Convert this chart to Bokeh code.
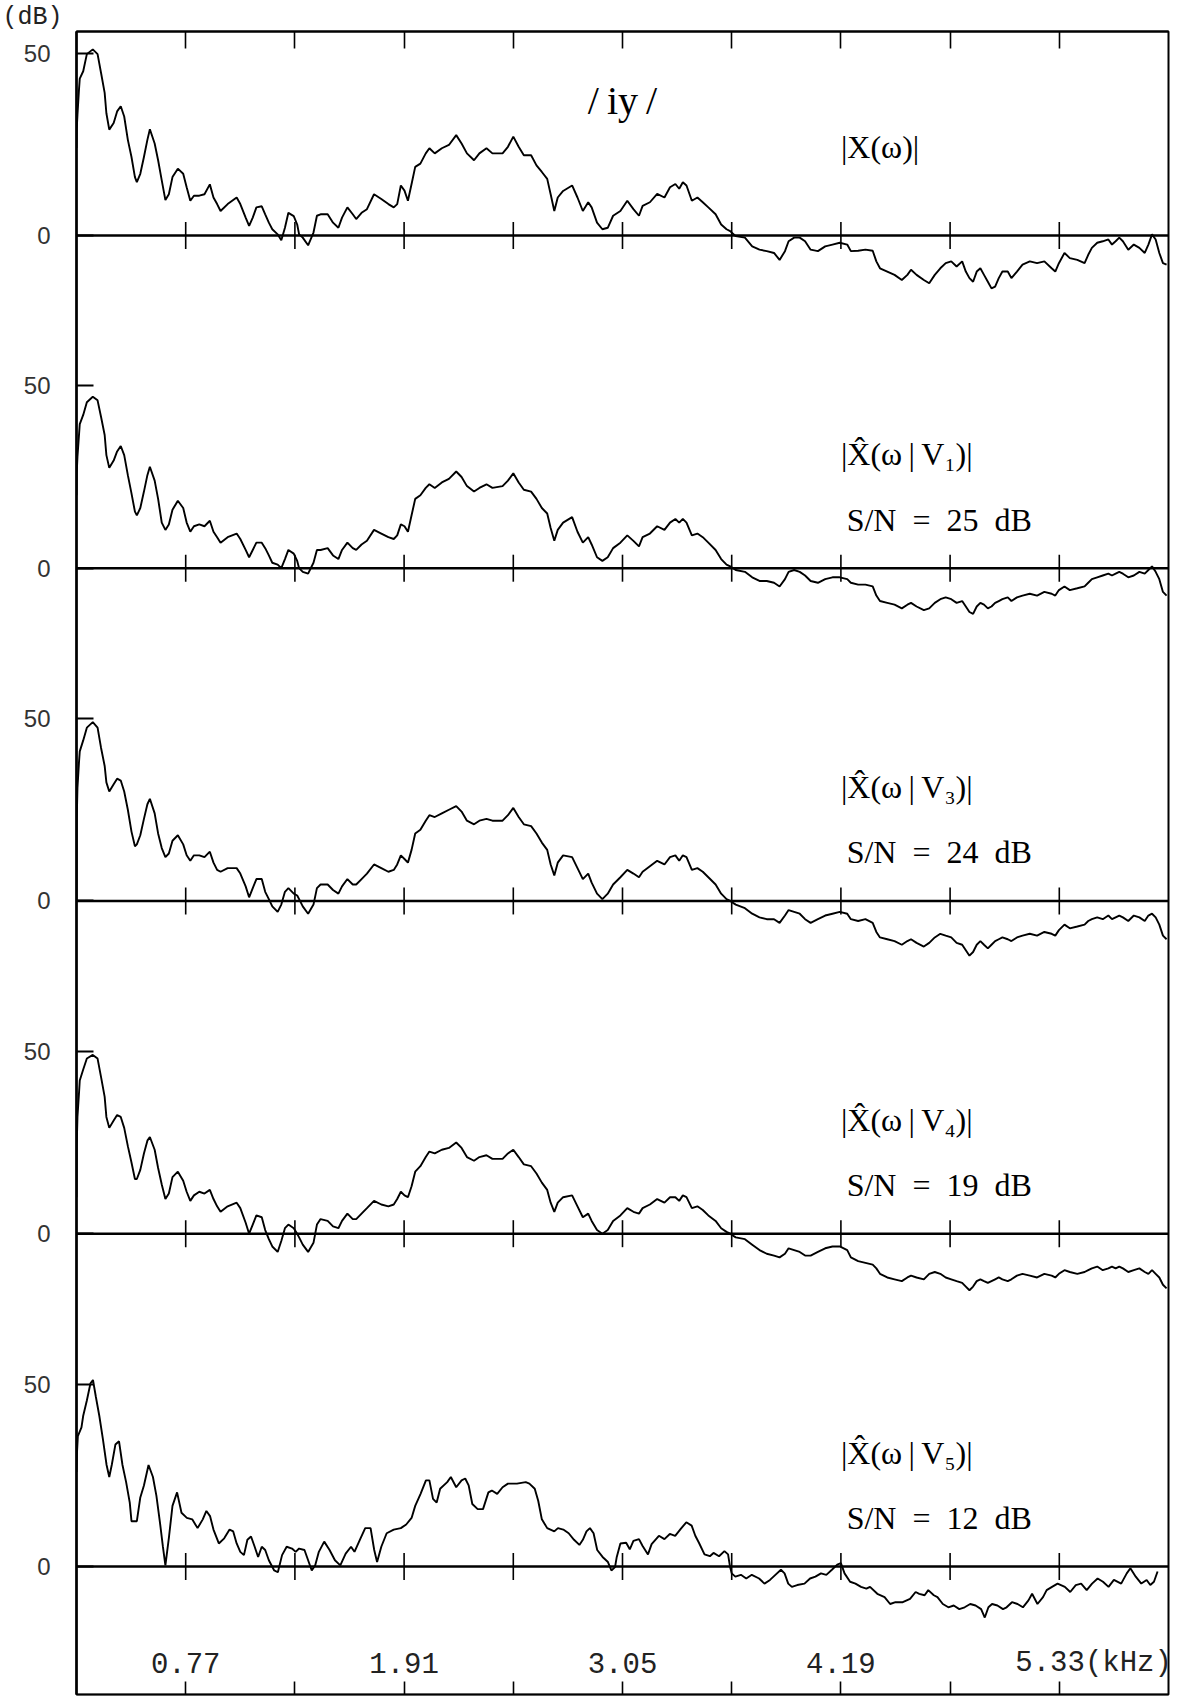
from bokeh.plotting import figure
from bokeh.models import FixedTicker, LinearAxis, Range1d, ColumnDataSource
from bokeh.core.properties import value
from bokeh.embed import file_html
from bokeh.resources import INLINE

# ---------------- data ----------------
freq_ticks = [0.77, 1.34, 1.91, 2.48, 3.05, 3.62, 4.19, 4.76, 5.33]
freq_label_pos = [0.77, 1.91, 3.05, 4.19, 5.33]
freq_labels = ["0.77", "1.91", "3.05", "4.19", "5.33(kHz)"]
db_ticks = [50, 0]

panel_names = ["|X(\u03c9)|",
               "|X\u0302(\u03c9\u2009|\u2009V\u2081)|",
               "|X\u0302(\u03c9\u2009|\u2009V\u2083)|",
               "|X\u0302(\u03c9\u2009|\u2009V\u2084)|",
               "|X\u0302(\u03c9\u2009|\u2009V\u2085)|"]
snr_labels = ["", "S/N\u2002=\u200225\u2002dB", "S/N\u2002=\u200224\u2002dB",
              "S/N\u2002=\u200219\u2002dB", "S/N\u2002=\u200212\u2002dB"]
vowel = "/\u2009iy\u2009/"

# common frequency grid (kHz) for the four upper spectra
f1 = [0.200, 0.201, 0.205, 0.213, 0.217, 0.235, 0.254, 0.285, 0.310, 0.328, 0.347, 0.356, 0.371, 0.394,
      0.412, 0.431, 0.449, 0.468, 0.487, 0.505, 0.515, 0.533, 0.552, 0.570, 0.583, 0.608, 0.626, 0.645,
      0.664, 0.682, 0.701, 0.729, 0.757, 0.775, 0.794, 0.813, 0.841, 0.868, 0.896, 0.915, 0.934, 0.952,
      0.989, 1.036, 1.055, 1.083, 1.101, 1.120, 1.139, 1.167, 1.185, 1.204, 1.222, 1.250, 1.269, 1.288,
      1.306, 1.334, 1.352, 1.362, 1.381, 1.409, 1.437, 1.455, 1.474, 1.511, 1.539, 1.567, 1.586, 1.614,
      1.642, 1.660, 1.688, 1.716, 1.753, 1.791, 1.828, 1.856, 1.874, 1.893, 1.912, 1.930, 1.949, 1.968,
      1.995, 2.023, 2.042, 2.070, 2.107, 2.144, 2.182, 2.210, 2.238, 2.275, 2.303, 2.340, 2.371, 2.424,
      2.452, 2.480, 2.508, 2.535, 2.573, 2.601, 2.629, 2.657, 2.675, 2.694, 2.712, 2.740, 2.787, 2.815,
      2.843, 2.871, 2.889, 2.917, 2.945, 2.973, 3.001, 3.039, 3.075, 3.107, 3.136, 3.155, 3.193, 3.231,
      3.269, 3.298, 3.326, 3.346, 3.365, 3.384, 3.412, 3.441, 3.469, 3.498, 3.536, 3.565, 3.593, 3.612,
      3.641, 3.689, 3.727, 3.765, 3.803, 3.841, 3.870, 3.898, 3.917, 3.946, 3.975, 4.003, 4.032, 4.070,
      4.108, 4.146, 4.184, 4.223, 4.242, 4.280, 4.318, 4.356, 4.375, 4.394, 4.432, 4.470, 4.508, 4.537,
      4.556, 4.585, 4.623, 4.651, 4.680, 4.709, 4.737, 4.766, 4.794, 4.823, 4.842, 4.861, 4.880, 4.899,
      4.918, 4.937, 4.957, 4.976, 4.995, 5.014, 5.033, 5.061, 5.080, 5.109, 5.138, 5.176, 5.214, 5.252,
      5.290, 5.309, 5.328, 5.357, 5.385, 5.424, 5.462, 5.481, 5.500, 5.528, 5.557, 5.586, 5.605, 5.624,
      5.643, 5.662, 5.690, 5.719, 5.748, 5.776, 5.795, 5.814, 5.833, 5.852, 5.871, 5.890]

# |X(w)|  (dB)
d1 = [24.0, 29.0, 33.0, 40.0, 43.0, 45.0, 49.7, 51.0, 49.7, 44.6, 39.1, 33.5, 29.0, 30.8,
      34.0, 35.4, 32.6, 26.2, 21.5, 16.0, 14.6, 16.9, 21.5, 26.2, 29.1, 25.2, 20.6, 15.1,
      9.7, 11.3, 16.0, 18.3, 16.9, 13.2, 9.5, 10.9, 10.9, 11.3, 14.0, 10.4, 8.6, 6.7,
      8.6, 10.4, 8.6, 4.9, 2.6, 4.9, 7.7, 8.0, 5.8, 3.5, 1.7, 0.3, -1.3, 2.1,
      6.2, 5.3, 3.0, 0.3, -0.6, -2.7, 0.8, 5.4, 5.8, 5.8, 3.5, 2.1, 4.9, 7.7,
      5.8, 4.5, 6.2, 7.2, 11.3, 10.0, 8.6, 7.7, 8.6, 13.7, 12.3, 9.5, 14.1, 18.8,
      19.7, 22.5, 23.9, 22.5, 23.9, 24.8, 27.5, 25.2, 22.5, 20.6, 22.5, 23.9, 22.5, 22.5,
      24.3, 27.1, 24.3, 22.0, 22.0, 19.2, 17.4, 15.5, 11.3, 6.7, 10.4, 12.2, 13.7, 10.4,
      6.7, 9.1, 7.7, 3.5, 1.7, 2.1, 5.4, 6.7, 9.5, 7.2, 5.4, 8.1, 9.1, 11.4,
      10.4, 13.2, 14.1, 12.8, 14.6, 13.7, 9.5, 10.4, 9.1, 7.7, 5.8, 3.0, 1.7, 1.2,
      -0.2, -0.6, -3.0, -3.9, -4.3, -4.8, -6.7, -4.3, -1.6, -0.6, -0.6, -1.6, -3.9, -4.3,
      -3.0, -2.5, -2.0, -2.5, -4.3, -4.2, -3.9, -4.2, -7.1, -9.0, -9.9, -10.8, -12.2, -10.8,
      -9.4, -10.8, -12.2, -13.1, -10.8, -9.0, -7.6, -7.1, -8.5, -7.1, -9.9, -11.7, -12.7, -9.9,
      -9.0, -10.8, -12.7, -14.5, -14.0, -11.7, -9.9, -9.9, -11.7, -9.9, -8.0, -7.1, -7.6, -7.1,
      -9.0, -9.9, -7.6, -4.8, -6.2, -6.7, -7.6, -5.3, -3.4, -2.0, -1.6, -1.1, -2.5, -1.6,
      -0.6, -1.6, -3.9, -2.5, -3.4, -4.8, -2.5, 0.3, -1.1, -4.8, -7.6, -8.0]

# |X^(w|V1)|, S/N 25 dB
d2 = [20.0, 26.0, 30.5, 36.5, 39.5, 42.0, 45.5, 47.0, 46.0, 41.5, 36.5, 31.0, 27.5, 29.5,
      32.0, 33.5, 31.0, 25.5, 20.5, 15.5, 14.5, 16.5, 21.0, 25.5, 27.8, 24.0, 19.0, 12.5,
      10.5, 12.0, 16.0, 18.5, 16.5, 12.5, 10.0, 11.5, 12.0, 11.5, 13.0, 10.0, 8.5, 7.0,
      8.5, 9.5, 8.0, 5.0, 3.0, 5.0, 7.0, 7.0, 5.5, 3.5, 1.5, 1.0, 0.0, 2.5,
      5.0, 4.0, 2.0, 0.0, -1.0, -1.5, 1.5, 5.0, 5.0, 5.5, 3.5, 2.5, 5.0, 7.0,
      5.5, 5.0, 6.5, 7.5, 10.5, 9.5, 8.5, 8.0, 9.0, 12.0, 11.5, 10.0, 14.5, 19.0,
      20.0, 22.0, 23.0, 22.0, 23.5, 24.5, 26.5, 25.0, 22.5, 21.0, 22.0, 23.0, 22.0, 22.5,
      24.0, 26.0, 23.5, 21.5, 21.0, 19.0, 16.5, 15.0, 11.0, 7.5, 10.5, 12.5, 14.0, 10.0,
      7.0, 8.5, 6.5, 3.0, 2.0, 3.0, 5.5, 7.0, 9.0, 7.5, 6.0, 8.5, 9.5, 11.5,
      10.5, 12.5, 13.5, 12.5, 13.5, 12.5, 9.0, 9.5, 8.5, 7.0, 5.0, 2.5, 1.0, 0.5,
      -0.5, -1.0, -2.5, -3.5, -3.5, -4.0, -5.0, -3.0, -1.0, -0.5, -1.0, -2.0, -3.5, -4.0,
      -3.0, -2.5, -2.5, -3.0, -4.0, -4.5, -4.5, -5.0, -7.5, -9.0, -9.5, -10.0, -11.0, -10.0,
      -9.5, -10.5, -11.5, -11.0, -9.5, -8.5, -8.0, -8.5, -9.5, -9.0, -10.5, -12.0, -12.5, -10.5,
      -9.5, -10.0, -11.0, -10.5, -9.5, -9.0, -8.5, -8.0, -9.0, -8.0, -7.5, -7.0, -7.5, -6.5,
      -7.0, -7.5, -6.0, -5.0, -6.0, -5.5, -5.0, -4.0, -3.0, -2.5, -2.0, -1.5, -2.0, -1.5,
      -1.0, -1.5, -2.5, -2.0, -1.0, -1.5, -0.5, 0.5, -1.0, -3.0, -6.5, -7.5]

# |X^(w|V3)|, S/N 24 dB
d3 = [0.0, 22.0, 31.0, 38.0, 41.0, 44.0, 47.5, 49.0, 47.5, 42.0, 37.0, 32.5, 30.0, 32.0,
      33.5, 33.0, 30.0, 25.0, 19.0, 15.0, 15.5, 18.0, 22.5, 26.5, 28.0, 24.0, 18.5, 14.5,
      12.0, 13.0, 16.5, 18.0, 15.5, 12.5, 11.0, 12.5, 12.5, 12.0, 13.5, 10.5, 8.5, 8.0,
      9.0, 9.0, 7.5, 4.0, 1.0, 3.5, 6.0, 6.0, 2.5, 0.5, -1.5, -3.0, -1.0, 2.5,
      3.5, 2.0, 1.5, 0.5, -1.5, -3.5, -1.0, 3.5, 4.5, 4.5, 3.0, 2.0, 4.0, 6.0,
      4.5, 4.5, 6.0, 7.5, 10.0, 9.0, 8.0, 8.5, 10.0, 12.5, 11.5, 10.5, 14.0, 18.5,
      19.5, 22.0, 23.5, 23.0, 24.0, 25.0, 26.0, 24.5, 22.0, 21.0, 22.0, 22.5, 22.0, 22.0,
      23.5, 25.5, 23.0, 21.0, 20.5, 18.5, 16.0, 14.0, 10.0, 7.0, 10.5, 12.5, 12.0, 9.0,
      6.0, 7.5, 5.0, 2.0, 0.5, 2.0, 4.5, 6.5, 8.5, 7.5, 6.5, 8.0, 9.5, 11.0,
      10.0, 12.0, 12.5, 11.0, 12.5, 12.0, 8.5, 9.0, 8.0, 6.5, 4.5, 2.0, 0.5, 0.0,
      -1.0, -2.0, -3.5, -4.5, -5.0, -5.0, -6.0, -4.0, -2.5, -3.0, -3.5, -5.0, -6.0, -5.0,
      -4.0, -3.5, -3.0, -3.5, -5.0, -5.5, -5.0, -6.0, -8.5, -10.0, -10.5, -11.0, -12.0, -11.0,
      -10.5, -11.5, -12.5, -11.5, -10.0, -9.0, -9.5, -10.0, -11.5, -12.0, -13.5, -15.0, -14.0, -12.0,
      -11.0, -12.0, -13.0, -12.0, -11.0, -10.5, -10.0, -10.5, -11.0, -10.0, -9.5, -9.0, -9.5, -8.5,
      -9.0, -9.5, -8.0, -6.5, -7.5, -7.0, -6.5, -5.5, -5.0, -4.5, -5.0, -4.0, -5.0, -4.5,
      -4.0, -4.5, -5.5, -4.0, -4.5, -5.5, -4.0, -3.5, -4.5, -6.5, -9.5, -10.5]

# |X^(w|V4)|, S/N 19 dB
d4 = [10.0, 24.0, 32.0, 38.5, 42.0, 45.0, 48.0, 49.0, 48.0, 43.0, 37.5, 32.0, 29.0, 31.0,
      32.5, 32.0, 29.0, 24.0, 19.5, 15.0, 15.0, 17.5, 22.0, 25.5, 26.5, 23.0, 18.0, 13.5,
      9.5, 11.0, 15.5, 17.0, 14.5, 11.5, 9.0, 10.5, 11.5, 11.0, 12.0, 9.5, 7.5, 6.0,
      7.5, 8.5, 7.0, 3.0, 0.0, 2.5, 5.0, 4.5, 1.0, -1.5, -3.5, -5.0, -2.0, 1.5,
      2.5, 1.5, 0.0, -1.0, -3.0, -5.0, -2.5, 2.5, 4.0, 3.5, 2.0, 1.5, 3.5, 5.5,
      4.0, 4.0, 5.5, 7.0, 9.0, 8.0, 7.5, 8.0, 9.5, 11.5, 10.5, 10.0, 13.0, 17.0,
      18.5, 21.0, 22.5, 22.0, 23.0, 23.5, 25.0, 23.5, 21.0, 20.0, 21.0, 21.5, 20.5, 20.5,
      22.0, 23.0, 21.0, 19.0, 18.5, 16.5, 14.0, 12.0, 8.5, 6.0, 8.5, 10.0, 10.5, 7.5,
      4.5, 5.5, 3.5, 1.0, 0.0, 1.0, 3.5, 5.0, 7.0, 6.0, 5.5, 7.0, 8.0, 9.5,
      8.5, 10.0, 10.0, 9.0, 10.5, 10.0, 7.0, 7.5, 6.5, 5.0, 3.5, 1.5, 0.5, 0.0,
      -1.0, -1.5, -3.0, -4.5, -5.5, -6.0, -6.5, -5.5, -4.0, -4.5, -5.0, -6.0, -6.0, -5.0,
      -4.0, -3.5, -3.5, -4.5, -6.5, -7.5, -8.0, -8.5, -9.5, -11.0, -12.0, -12.5, -13.0, -12.0,
      -11.5, -12.0, -12.5, -11.0, -10.5, -11.0, -12.0, -12.5, -13.0, -13.5, -14.5, -15.5, -14.5, -13.0,
      -12.5, -13.0, -13.5, -13.0, -12.5, -12.0, -12.5, -13.0, -12.5, -11.5, -11.0, -11.5, -12.0, -11.0,
      -11.5, -12.0, -11.0, -10.0, -10.5, -11.0, -10.5, -10.0, -9.5, -9.0, -10.0, -9.5, -9.0, -9.5,
      -9.0, -9.5, -10.5, -10.0, -9.5, -10.5, -11.0, -10.0, -11.0, -12.0, -14.0, -15.0]

# |X^(w|V5)|, S/N 12 dB
f5 = [0.200, 0.202, 0.207, 0.226, 0.235, 0.254, 0.273, 0.286, 0.301, 0.319, 0.338, 0.357, 0.371, 0.384,
      0.403, 0.422, 0.440, 0.459, 0.478, 0.487, 0.515, 0.533, 0.552, 0.576, 0.599, 0.617, 0.636, 0.651,
      0.664, 0.683, 0.701, 0.725, 0.748, 0.776, 0.804, 0.832, 0.859, 0.878, 0.897, 0.915, 0.943, 0.971,
      0.999, 1.018, 1.036, 1.055, 1.074, 1.092, 1.111, 1.130, 1.148, 1.167, 1.185, 1.204, 1.232, 1.251,
      1.273, 1.297, 1.325, 1.344, 1.362, 1.390, 1.409, 1.428, 1.446, 1.465, 1.493, 1.521, 1.549, 1.577,
      1.605, 1.633, 1.651, 1.679, 1.707, 1.735, 1.754, 1.769, 1.791, 1.819, 1.856, 1.893, 1.921, 1.949,
      1.968, 1.996, 2.024, 2.042, 2.061, 2.080, 2.098, 2.135, 2.154, 2.182, 2.210, 2.229, 2.247, 2.266,
      2.294, 2.322, 2.350, 2.368, 2.396, 2.424, 2.452, 2.499, 2.545, 2.564, 2.592, 2.610, 2.629, 2.657,
      2.694, 2.713, 2.741, 2.769, 2.797, 2.825, 2.843, 2.862, 2.880, 2.899, 2.918, 2.946, 2.974, 2.992,
      3.011, 3.020, 3.039, 3.069, 3.088, 3.107, 3.136, 3.155, 3.183, 3.202, 3.240, 3.269, 3.297, 3.325,
      3.354, 3.383, 3.411, 3.430, 3.449, 3.478, 3.506, 3.525, 3.554, 3.582, 3.601, 3.611, 3.620, 3.639,
      3.668, 3.696, 3.725, 3.763, 3.791, 3.820, 3.848, 3.877, 3.896, 3.915, 3.934, 3.962, 4.000, 4.029,
      4.057, 4.086, 4.114, 4.143, 4.171, 4.190, 4.209, 4.238, 4.266, 4.295, 4.323, 4.342, 4.380, 4.418,
      4.447, 4.475, 4.513, 4.551, 4.580, 4.599, 4.627, 4.646, 4.675, 4.694, 4.722, 4.751, 4.779, 4.808,
      4.836, 4.865, 4.893, 4.922, 4.941, 4.960, 4.979, 5.007, 5.036, 5.055, 5.083, 5.112, 5.140, 5.169,
      5.188, 5.216, 5.245, 5.264, 5.292, 5.321, 5.359, 5.387, 5.416, 5.444, 5.473, 5.501, 5.530, 5.558,
      5.587, 5.615, 5.653, 5.682, 5.701, 5.729, 5.758, 5.786, 5.805, 5.824, 5.843]
d5 = [25.9, 30.6, 35.7, 38.1, 41.3, 45.5, 50.2, 51.1, 46.5, 41.3, 34.8, 27.8, 24.5, 27.8,
      33.4, 34.3, 27.8, 23.1, 17.5, 12.4, 12.4, 18.9, 22.2, 27.8, 24.5, 19.4, 11.9, 5.4,
      0.3, 8.2, 16.6, 20.3, 14.7, 13.3, 12.9, 10.5, 12.9, 15.2, 13.8, 10.1, 6.3, 7.7,
      10.1, 9.6, 6.3, 4.0, 3.1, 7.3, 8.2, 5.4, 2.6, 5.4, 4.5, 1.7, -1.1, -1.6,
      3.1, 5.4, 4.9, 4.0, 4.9, 4.5, 1.7, -1.1, 0.3, 4.0, 6.8, 4.5, 1.7, 0.3,
      3.5, 5.4, 4.0, 7.3, 10.5, 10.5, 4.5, 1.2, 5.4, 9.1, 10.1, 10.5, 11.5, 13.3,
      16.6, 19.9, 23.6, 23.6, 18.5, 17.5, 21.3, 23.1, 24.5, 21.7, 23.6, 24.1, 22.2, 17.1,
      15.7, 15.7, 20.3, 20.8, 19.9, 21.7, 22.7, 22.7, 23.1, 22.7, 21.3, 18.0, 12.9, 10.5,
      9.6, 10.5, 10.1, 9.1, 7.3, 5.9, 7.3, 9.6, 10.5, 9.1, 4.5, 2.6, 1.2, -1.1,
      -0.2, 2.6, 6.3, 6.5, 4.7, 7.0, 7.5, 5.6, 3.3, 6.1, 8.4, 7.5, 8.9, 8.4,
      10.3, 12.1, 11.2, 8.4, 6.5, 3.3, 2.8, 3.7, 2.8, 4.2, 3.3, 0.0, -1.9, -2.8,
      -2.3, -3.3, -2.3, -3.3, -4.7, -3.7, -2.3, -0.9, -1.9, -4.7, -5.6, -5.1, -4.7, -3.3,
      -2.8, -1.9, -2.3, -0.9, 0.5, 0.9, -1.9, -4.2, -4.7, -5.6, -6.1, -5.6, -7.5, -8.4,
      -10.3, -9.8, -9.8, -8.9, -7.0, -7.5, -7.9, -6.5, -7.9, -8.4, -10.3, -11.2, -10.7, -11.7,
      -11.2, -10.3, -10.7, -11.7, -14.0, -11.2, -10.3, -10.7, -11.7, -11.2, -9.8, -10.3, -11.2, -9.3,
      -7.5, -10.3, -8.4, -6.5, -5.6, -4.7, -5.6, -7.0, -5.1, -4.7, -6.5, -4.7, -3.3, -4.2,
      -5.6, -3.7, -4.7, -1.9, -0.5, -2.8, -4.7, -3.7, -5.1, -4.2, -1.4]

freqs = [f1, f1, f1, f1, f5]
levels = [d1, d2, d3, d4, d5]

# ---------------- layout constants ----------------
X0, X1 = 0.20, 5.90
STEP = 91.2                       # vertical distance between panel zero lines (dB units)
offsets = [-i * STEP for i in range(5)]
Y_TOP = 55.9
Y_BOT = offsets[-1] - 35.1

p = figure(width=1181, height=1696, x_range=Range1d(X0, X1), y_range=Range1d(Y_BOT, Y_TOP),
           output_backend="svg", toolbar_location=None,
           x_axis_location=None, y_axis_location=None,
           min_border_left=76, min_border_right=13, min_border_top=30, min_border_bottom=2)
p.xgrid.visible = False
p.ygrid.visible = False
p.outline_line_color = "black"
p.outline_line_width = 2
p.background_fill_color = "white"
p.border_fill_color = "white"

# "(dB)" unit marker in the top-left corner
p.title.text = "(dB)"
p.title.align = "left"
p.title.offset = -74
p.title.standoff = 0
p.title.text_font = "Liberation Mono"
p.title.text_font_size = "25px"
p.title.text_font_style = "normal"
p.title.text_color = "#222222"

# left axis: 50 / 0 for each panel
ytick_vals = []
overrides = {}
for off in offsets:
    for t in db_ticks:
        ytick_vals.append(off + t)
        overrides[float(off + t)] = str(t)
yaxis = LinearAxis(ticker=FixedTicker(ticks=ytick_vals), major_label_overrides=overrides,
                   major_tick_in=17, major_tick_out=0, minor_tick_in=0, minor_tick_out=0,
                   axis_line_width=2.5, axis_line_color="black",
                   major_tick_line_width=2, major_tick_line_color="black",
                   major_label_standoff=26,
                   major_label_text_font="Liberation Sans", major_label_text_font_size="24px",
                   major_label_text_color="#333333")
p.add_layout(yaxis, "left")

blank = {float(t): "" for t in freq_ticks}
top_axis = LinearAxis(ticker=FixedTicker(ticks=freq_ticks), major_label_overrides=blank,
                      major_tick_in=17, major_tick_out=0, minor_tick_in=0, minor_tick_out=0,
                      axis_line_width=2, major_tick_line_width=1.6,
                      major_label_text_font_size="1px", major_label_standoff=0)
p.add_layout(top_axis, "above")
bot_axis = LinearAxis(ticker=FixedTicker(ticks=freq_ticks), major_label_overrides=blank,
                      major_tick_in=13, major_tick_out=0, minor_tick_in=0, minor_tick_out=0,
                      axis_line_width=1.5, major_tick_line_width=1.6,
                      major_label_text_font_size="1px", major_label_standoff=0)
p.add_layout(bot_axis, "below")

# zero lines with crossing ticks
p.segment(x0=[X0] * 5, x1=[X1] * 5, y0=offsets, y1=offsets, line_color="black", line_width=2.6)
tx, ty0, ty1 = [], [], []
for off in offsets:
    for t in freq_ticks:
        tx.append(t); ty0.append(off - 3.7); ty1.append(off + 3.7)
p.segment(x0=tx, x1=tx, y0=ty0, y1=ty1, line_color="black", line_width=1.6)

# spectra
for f, d, off in zip(freqs, levels, offsets):
    src = ColumnDataSource(dict(x=f, y=[v + off for v in d]))
    p.line("x", "y", source=src, line_color="black", line_width=1.9)

# texts
serif = value("Liberation Serif")
p.text(x=[3.05], y=[37.0], text=[vowel], text_font=serif, text_font_size="40px",
       text_align="center", text_baseline="middle", text_color="black")
p.text(x=[4.19] * 5, y=[24.3] + [off + 31.2 for off in offsets[1:]], text=panel_names,
       text_font=serif, text_font_size="32px", text_align="left", text_baseline="middle",
       text_color="black")
p.text(x=[4.22] * 4, y=[off + 13.3 for off in offsets[1:]], text=snr_labels[1:],
       text_font=serif, text_font_size="32px", text_align="left", text_baseline="middle",
       text_color="black")

# x tick labels (drawn above the bottom ticks, as in the original)
lab_y = Y_BOT + 8.6
mono = value("Liberation Mono")
p.text(x=freq_label_pos[:-1], y=[lab_y] * 4, text=freq_labels[:-1],
       text_font=mono, text_font_size="29px",
       text_align="center", text_baseline="middle", text_color="#222222")
p.text(x=freq_label_pos[-1:], y=[lab_y], text=freq_labels[-1:],
       text_font=mono, text_font_size="29px", x_offset=-44,
       text_align="left", text_baseline="middle", text_color="#222222")

open("out.html", "w").write(file_html(p, INLINE))
